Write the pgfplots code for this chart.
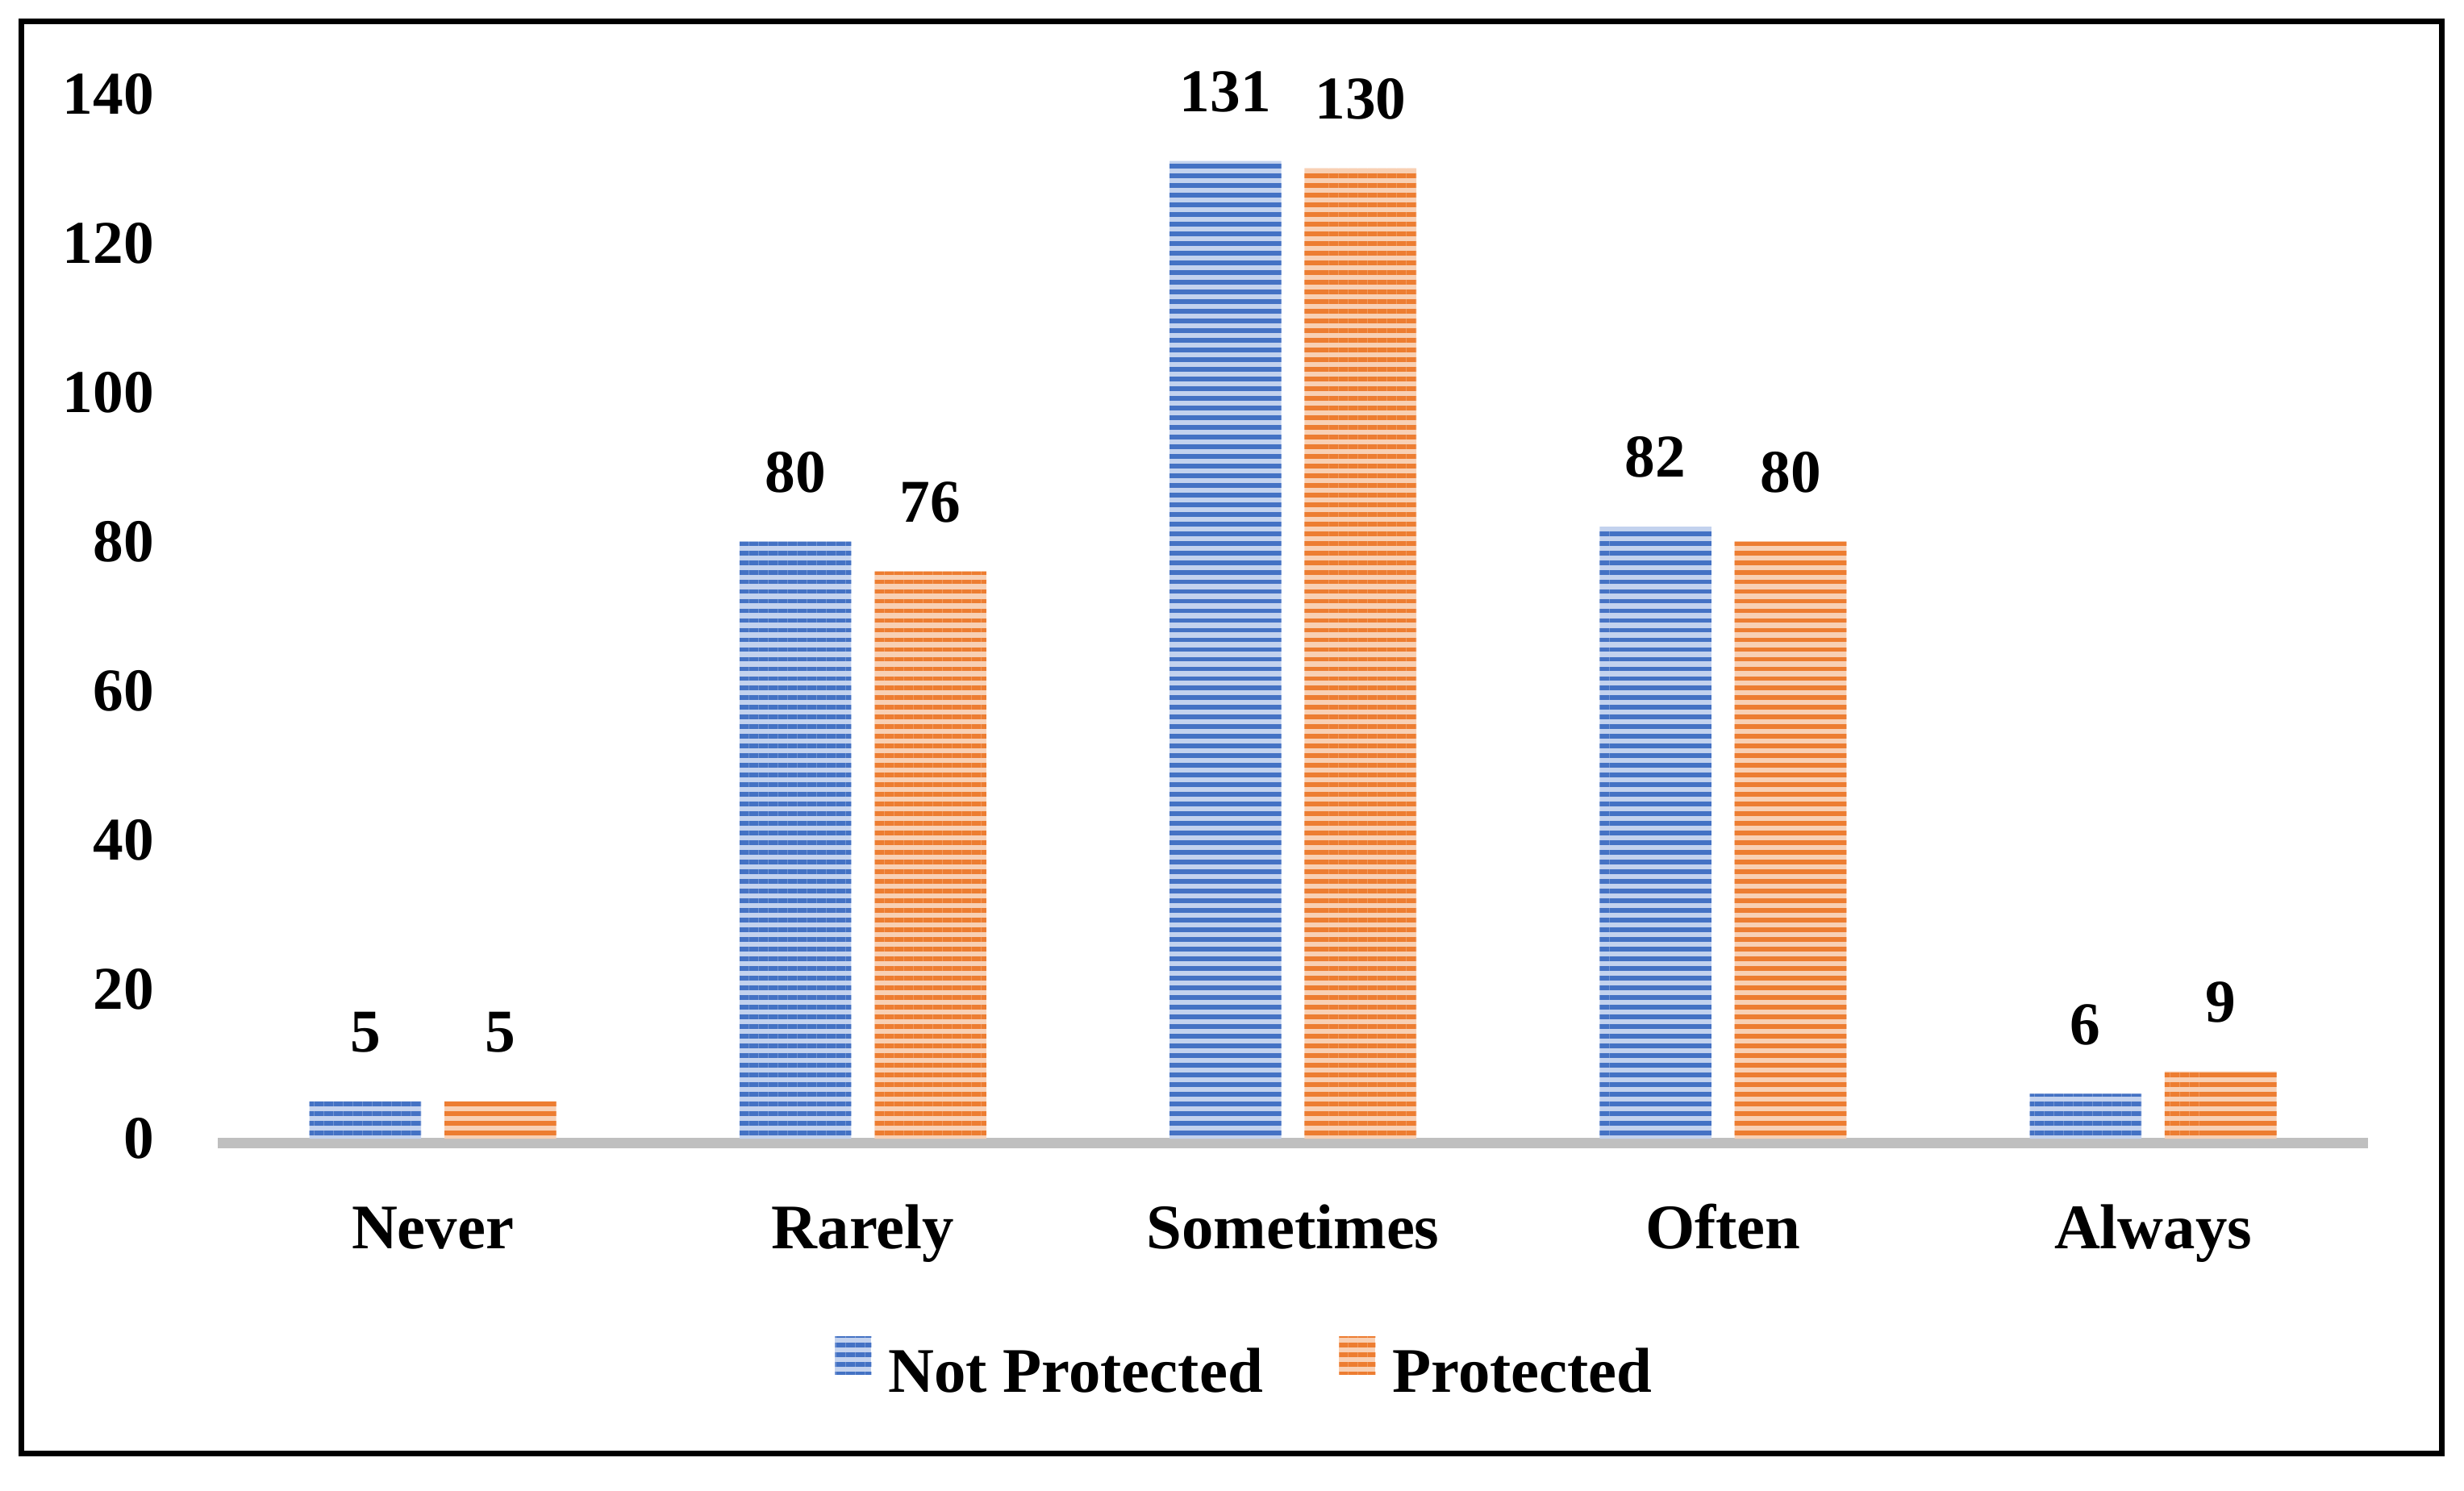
\documentclass[border=0pt]{standalone}
\usepackage{fontspec}
\setmainfont{Liberation Serif}
\usepackage{pgfplots}
\pgfplotsset{compat=1.18}
\usetikzlibrary{patterns.meta}

\definecolor{npBlue}{HTML}{4472C4}
\definecolor{npBlueLt}{HTML}{C3D2EE}
\definecolor{pOrange}{HTML}{ED7D31}
\definecolor{pOrangeLt}{HTML}{F8D0B4}
\definecolor{axisGray}{HTML}{BFBFBF}

\newcommand\numfont{\fontsize{11}{13}\selectfont\bfseries}
\newcommand\wordfont{\fontsize{11.5}{13}\selectfont\bfseries}

% striped bar: light base + dark horizontal lines
\pgfplotsset{
  stripebar/.style={
    ybar, bar width=0.26, draw=none,
    fill=#1Lt,
    postaction={pattern={Lines[angle=0,distance=1.75pt,line width=0.85pt]}, pattern color=#1},
    legend image code/.code={\path[##1] (0mm,0mm) rectangle (2.31mm,2.44mm);},
  },
}

% counts per frequency category
\pgfplotstableread{
x notprot prot
0 5   5
1 80  76
2 131 130
3 82  80
4 6   9
}\datatable

\begin{document}
\begin{tikzpicture}
\path[use as bounding box] (-13.86mm,-22.38mm) rectangle (142.94mm,72.47mm);
\begin{axis}[
  at={(0,0)}, anchor=south west,
  scale only axis, width=136.84mm, height=66.5mm,
  xmin=-0.5, xmax=4.5, ymin=0, ymax=140,
  ytick={0,20,...,140},
  xtick={0,...,4},
  xticklabels={Never,Rarely,Sometimes,Often,Always},
  axis x line*=bottom, axis y line*=left,
  x axis line style={draw=axisGray, line width=1.9pt, yshift=-0.29mm},
  y axis line style={draw=none},
  major tick length=0pt, tick style={draw=none},
  clip=false,
  /pgf/number format/assume math mode=true,
  yticklabel style={font=\numfont, anchor=east, inner sep=0pt, xshift=-4.0mm},
  xticklabel style={font=\wordfont, anchor=base, inner sep=0pt, yshift=-7.0mm},
  nodes near coords,
  every node near coord/.append style={font=\numfont, anchor=south, inner sep=0pt, yshift=3.03mm},
  legend columns=2,
  legend cell align=left,
  legend style={at={(0.4771,-0.220)}, anchor=center, draw=none, fill=none,
    font=\wordfont, inner sep=0pt, nodes={inner sep=0pt},
    /tikz/every odd column/.append style={column sep=1.08mm},
    /tikz/every even column/.append style={column sep=4.86mm}},
]
\addplot[stripebar=npBlue, bar shift=-0.157,
  every node near coord/.append style={xshift=-4.30mm}]
  table[x=x, y=notprot] {\datatable};
\addlegendentry{Not Protected}
\addplot[stripebar=pOrange, bar shift=0.157,
  every node near coord/.append style={xshift=4.30mm}]
  table[x=x, y=prot] {\datatable};
\addlegendentry{Protected}
\end{axis}
\draw[line width=0.36mm] (-12.5mm,-20.02mm) rectangle (141.54mm,71.11mm);
\end{tikzpicture}
\end{document}
